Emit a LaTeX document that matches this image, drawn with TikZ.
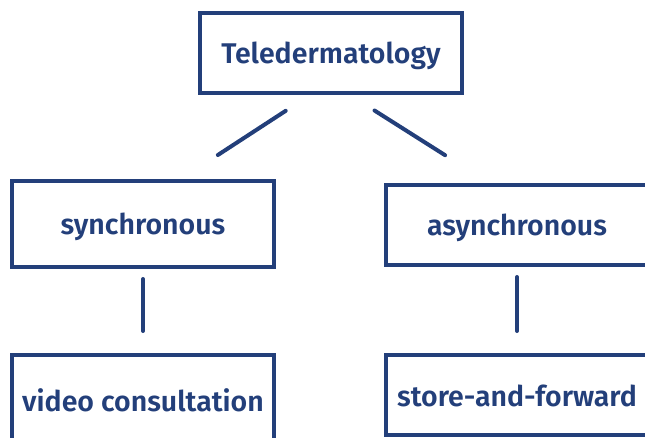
\documentclass[tikz,border=0pt]{standalone}
\usepackage{fontspec}
\setmainfont{Fira Sans}[BoldFont={Fira Sans SemiBold}]
\usepackage{xcolor}
\usetikzlibrary{positioning}
\definecolor{boxblue}{HTML}{233F7A}

\begin{document}
\begin{tikzpicture}[x=1pt, y=-1pt, on grid, line width=4pt,
    box/.style={rectangle, draw=boxblue, text=boxblue, minimum width=262pt, minimum height=84pt, inner sep=0pt, text height=22pt, text depth=0pt, font=\fontsize{28.5}{32}\selectfont\bfseries},
    link/.style={draw=boxblue, line cap=round}]
      \useasboundingbox (0,0) rectangle (645,438);
      \node[box, minimum height=80pt] (tele) at (331,53) {Teledermatology};
      \node[box, minimum height=86pt, below left= 171pt and 188pt of tele] (sync) {synchronous};
      \node[box, minimum height=80pt, below right= 172pt and 186pt of tele] (async) {asynchronous};
      \node[box, minimum height=90pt, below= 176pt of sync] (video) {video consultation};
      \node[box, minimum height=80pt, below= 170pt of async] (store) {store-and-forward};

      \draw[link, shorten <=29pt, shorten >=44pt] ([xshift=-21pt]tele.south) -- ([xshift=38pt]sync.north);
      \draw[link, shorten <=29pt, shorten >=52pt] ([xshift=19pt]tele.south) -- ([xshift=-28pt]async.north);
      \draw[link, shorten <=10pt, shorten >=22pt] (sync) -- (video);
      \draw[link, shorten <=10pt, shorten >=22pt] (async) -- (store);
    \end{tikzpicture}
\end{document}
